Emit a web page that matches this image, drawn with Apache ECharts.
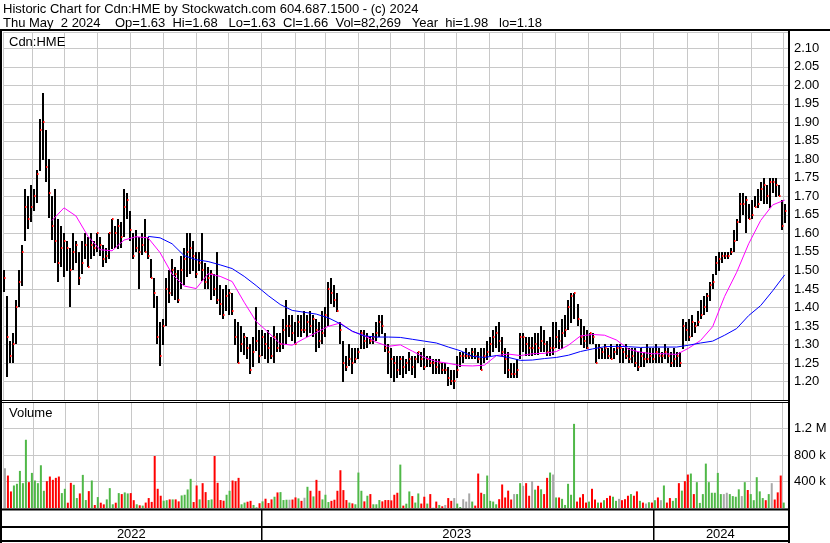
<!DOCTYPE html>
<html><head><meta charset="utf-8">
<script src="https://cdn.jsdelivr.net/npm/echarts@6/dist/echarts.min.js"></script>
<style>html,body{margin:0;padding:0;background:#fff}#c{width:830px;height:543px}</style>
</head><body><div id="c"></div>
<script>
// ---- data ----
const titleLine1 = 'Historic Chart for Cdn:HME by Stockwatch.com 604.687.1500 - (c) 2024';
const titleLine2 = 'Thu May  2 2024    Op=1.63  Hi=1.68   Lo=1.63  Cl=1.66  Vol=82,269   Year  hi=1.98   lo=1.18';
const symbolLabel = 'Cdn:HME';
const volumeLabel = 'Volume';
const yearLabels = ['2022', '2023', '2024'];

// bars sampled evenly from 2022-05-06 to 2024-05-02
const firstBarDate = [2022, 4, 6];
const lastBarDate = [2024, 4, 2];

const highs = [
1.50,1.43,1.31,1.33,1.42,1.50,1.57,1.72,1.70,1.73,
1.72,1.77,1.91,1.98,1.88,1.80,1.70,1.72,1.64,1.62,
1.60,1.58,1.56,1.60,1.58,1.55,1.58,1.60,1.59,1.60,
1.58,1.60,1.59,1.57,1.56,1.60,1.64,1.62,1.64,1.63,
1.72,1.71,1.66,1.60,1.61,1.59,1.60,1.64,1.59,1.53,
1.48,1.43,1.36,1.37,1.48,1.50,1.53,1.51,1.50,1.54,
1.56,1.60,1.60,1.58,1.55,1.55,1.60,1.52,1.51,1.50,
1.49,1.55,1.46,1.45,1.46,1.45,1.44,1.37,1.36,1.35,
1.33,1.32,1.30,1.32,1.40,1.34,1.34,1.33,1.34,1.32,
1.35,1.33,1.33,1.37,1.42,1.38,1.38,1.36,1.38,1.38,
1.39,1.38,1.39,1.38,1.37,1.36,1.39,1.40,1.47,1.48,
1.46,1.44,1.36,1.31,1.27,1.30,1.29,1.29,1.29,1.34,
1.34,1.33,1.32,1.33,1.36,1.38,1.38,1.33,1.30,1.29,
1.27,1.27,1.27,1.27,1.26,1.28,1.27,1.27,1.28,1.28,
1.29,1.27,1.27,1.26,1.26,1.26,1.25,1.25,1.24,1.23,
1.23,1.27,1.28,1.28,1.29,1.28,1.29,1.29,1.28,1.29,
1.29,1.31,1.32,1.34,1.35,1.36,1.32,1.29,1.28,1.25,
1.25,1.26,1.33,1.33,1.32,1.32,1.32,1.33,1.33,1.35,
1.34,1.31,1.32,1.36,1.36,1.34,1.37,1.38,1.42,1.44,
1.44,1.41,1.37,1.35,1.34,1.33,1.33,1.30,1.30,1.29,
1.30,1.29,1.30,1.29,1.30,1.30,1.29,1.30,1.29,1.29,
1.29,1.28,1.29,1.28,1.30,1.29,1.29,1.30,1.29,1.28,
1.30,1.29,1.28,1.29,1.28,1.28,1.37,1.36,1.37,1.38,
1.36,1.39,1.42,1.43,1.44,1.47,1.49,1.54,1.55,1.55,
1.55,1.55,1.56,1.61,1.64,1.71,1.71,1.70,1.68,1.69,
1.70,1.72,1.74,1.75,1.73,1.75,1.75,1.75,1.73,1.69,
1.68];

const lows = [
1.44,1.21,1.25,1.25,1.30,1.40,1.46,1.58,1.61,1.63,
1.66,1.68,1.77,1.80,1.74,1.64,1.58,1.52,1.47,1.51,
1.48,1.50,1.40,1.50,1.52,1.46,1.49,1.53,1.51,1.53,
1.54,1.55,1.54,1.51,1.52,1.53,1.56,1.56,1.56,1.56,
1.59,1.64,1.58,1.53,1.55,1.45,1.54,1.55,1.53,1.48,
1.40,1.30,1.24,1.30,1.35,1.41,1.43,1.42,1.41,1.45,
1.46,1.48,1.49,1.50,1.48,1.50,1.47,1.45,1.45,1.42,
1.43,1.41,1.38,1.37,1.39,1.38,1.38,1.30,1.25,1.28,
1.27,1.26,1.22,1.24,1.28,1.25,1.27,1.26,1.25,1.26,
1.25,1.28,1.28,1.29,1.30,1.32,1.31,1.30,1.32,1.32,
1.33,1.32,1.33,1.32,1.28,1.29,1.30,1.32,1.35,1.41,
1.40,1.39,1.30,1.20,1.23,1.24,1.22,1.25,1.26,1.29,
1.29,1.29,1.30,1.30,1.31,1.32,1.33,1.28,1.22,1.21,
1.20,1.21,1.22,1.21,1.22,1.23,1.22,1.21,1.25,1.24,
1.23,1.24,1.24,1.22,1.22,1.22,1.22,1.22,1.19,1.19,
1.18,1.21,1.24,1.25,1.26,1.26,1.26,1.26,1.25,1.23,
1.25,1.26,1.27,1.28,1.29,1.28,1.27,1.22,1.21,1.21,
1.21,1.21,1.26,1.28,1.27,1.27,1.27,1.27,1.27,1.28,
1.28,1.27,1.27,1.27,1.29,1.29,1.29,1.32,1.34,1.36,
1.37,1.35,1.30,1.29,1.29,1.30,1.30,1.25,1.26,1.26,
1.26,1.26,1.26,1.26,1.27,1.25,1.25,1.26,1.25,1.25,
1.24,1.23,1.24,1.24,1.25,1.25,1.25,1.25,1.25,1.25,
1.26,1.25,1.24,1.24,1.24,1.24,1.29,1.31,1.31,1.32,
1.33,1.35,1.37,1.38,1.39,1.42,1.45,1.49,1.50,1.52,
1.53,1.53,1.54,1.55,1.58,1.63,1.65,1.60,1.64,1.64,
1.67,1.67,1.69,1.68,1.68,1.67,1.71,1.70,1.70,1.61,
1.63];

const closes = [
1.48,1.32,1.27,1.30,1.40,1.47,1.55,1.67,1.64,1.67,
1.70,1.76,1.88,1.90,1.78,1.71,1.62,1.58,1.52,1.56,
1.58,1.56,1.50,1.55,1.57,1.48,1.52,1.57,1.51,1.57,
1.56,1.60,1.57,1.53,1.54,1.60,1.64,1.60,1.62,1.59,
1.67,1.69,1.61,1.54,1.56,1.55,1.57,1.55,1.54,1.48,
1.44,1.32,1.27,1.35,1.45,1.44,1.50,1.49,1.42,1.50,
1.53,1.55,1.56,1.54,1.49,1.52,1.50,1.47,1.48,1.49,
1.45,1.42,1.41,1.38,1.43,1.44,1.39,1.32,1.25,1.30,
1.32,1.29,1.23,1.28,1.31,1.27,1.32,1.30,1.29,1.27,
1.32,1.29,1.30,1.34,1.35,1.35,1.33,1.30,1.36,1.34,
1.34,1.36,1.35,1.37,1.34,1.31,1.33,1.38,1.45,1.44,
1.42,1.39,1.34,1.25,1.24,1.26,1.25,1.26,1.28,1.33,
1.31,1.32,1.31,1.32,1.33,1.36,1.35,1.29,1.28,1.26,
1.25,1.23,1.26,1.24,1.25,1.26,1.24,1.26,1.28,1.26,
1.24,1.26,1.25,1.25,1.24,1.25,1.23,1.23,1.21,1.20,
1.20,1.23,1.27,1.27,1.27,1.27,1.28,1.27,1.26,1.23,
1.27,1.28,1.30,1.32,1.33,1.31,1.28,1.26,1.23,1.22,
1.22,1.23,1.32,1.32,1.30,1.29,1.29,1.30,1.29,1.31,
1.30,1.28,1.29,1.29,1.32,1.31,1.33,1.34,1.40,1.43,
1.44,1.37,1.32,1.31,1.29,1.33,1.32,1.25,1.29,1.28,
1.29,1.27,1.26,1.28,1.29,1.29,1.28,1.27,1.26,1.27,
1.25,1.24,1.27,1.26,1.26,1.27,1.26,1.28,1.27,1.27,
1.28,1.27,1.25,1.26,1.27,1.25,1.35,1.34,1.32,1.36,
1.35,1.36,1.38,1.40,1.43,1.46,1.47,1.52,1.53,1.54,
1.54,1.54,1.55,1.58,1.63,1.68,1.68,1.69,1.64,1.65,
1.67,1.68,1.72,1.73,1.70,1.74,1.74,1.73,1.70,1.62,
1.66];

// volume in thousands of shares
const volumesK = [
600,490,250,340,365,560,375,1030,390,530,
415,375,645,260,405,475,425,455,475,225,
290,80,380,350,150,220,500,120,255,415,
45,165,80,55,130,300,56,80,225,210,
235,220,225,118,56,41,36,82,150,92,
785,290,185,110,118,130,130,130,100,190,
200,280,440,90,340,130,375,240,120,130,
785,380,120,110,200,260,415,405,455,56,
82,95,108,46,10,72,100,140,75,130,
170,235,240,120,125,125,128,160,145,108,
155,320,260,175,425,260,130,200,90,108,
125,260,570,270,120,82,70,56,535,260,
100,185,210,56,56,120,100,120,120,115,
200,230,655,36,65,250,180,82,220,67,
170,67,210,5,97,46,26,46,150,108,
150,67,15,133,97,220,97,36,520,230,
210,490,108,97,56,133,355,159,262,128,
210,210,375,335,375,185,405,277,335,282,
210,455,535,505,159,159,138,46,365,200,
1270,97,159,210,82,97,290,128,82,82,
118,150,185,170,108,138,118,133,185,210,
185,251,108,82,67,87,82,118,159,118,
340,82,150,108,150,375,262,405,505,520,
210,390,77,210,670,390,230,230,530,210,
210,230,210,180,170,282,180,390,272,210,
118,465,251,150,118,210,375,128,236,490,
82];

// moving averages read every 4th bar
const maStep = 4;
const maFastFrom = 16;   // first bar index of the magenta average
const maFast = [
1.635,1.669,1.647,1.592,1.556,1.553,1.582,1.591,1.588,1.548,
1.490,1.458,1.451,1.491,1.484,1.470,1.414,1.362,1.333,1.302,
1.298,1.316,1.332,1.349,1.358,1.335,1.324,1.306,1.295,1.299,
1.282,1.265,1.254,1.249,1.243,1.242,1.244,1.270,1.274,1.270,
1.275,1.276,1.281,1.298,1.323,1.327,1.325,1.312,1.287,1.279,
1.275,1.275,1.273,1.290,1.311,1.348,1.430,1.495,1.572,1.635,
1.677,1.690];
const maSlowFrom = 48;   // first bar index of the blue average
const maSlow = [
1.592,1.588,1.572,1.540,1.529,1.524,1.515,1.505,1.484,1.459,
1.432,1.408,1.392,1.387,1.382,1.372,1.356,1.336,1.323,1.320,
1.320,1.319,1.314,1.309,1.304,1.293,1.283,1.268,1.265,1.270,
1.265,1.257,1.258,1.262,1.265,1.271,1.281,1.288,1.294,1.295,
1.294,1.292,1.293,1.293,1.293,1.298,1.304,1.309,1.325,1.343,
1.378,1.405,1.445,1.488];

// ---- chart ----
const FONT = '"Liberation Sans", Arial, sans-serif';
const t0 = new Date(firstBarDate[0], firstBarDate[1], firstBarDate[2]).getTime();
const t1 = new Date(lastBarDate[0], lastBarDate[1], lastBarDate[2]).getTime();
const barTime = i => t0 + i * (t1 - t0) / (highs.length - 1);
const axisMin = new Date(2022, 4, 5, 3).getTime();
const axisMax = new Date(2024, 4, 6).getTime();
const DAY = 864e5;
const GRID = '#c8c8c8';

const priceData = highs.map((h, i) => [barTime(i), h, lows[i], closes[i]]);
const fastData = maFast.map((v, k) => [barTime(maFastFrom + k * maStep), v]);
const slowData = maSlow.map((v, k) => [barTime(maSlowFrom + k * maStep), v]);
const volData = volumesK.map((v, i) => {
  const d = i === 0 ? 0 : Math.round((closes[i] - closes[i - 1]) * 100);
  const col = d > 0 ? '#50b848' : d < 0 ? '#ff0000' : '#a8a8a8';
  return { value: [barTime(i), v * 1000], itemStyle: { color: col } };
});
const yearData = yearLabels.map((y, i) => {
  const s = Math.max(axisMin, new Date(+y, 0, 1).getTime());
  const e = i < yearLabels.length - 1 ? new Date(+yearLabels[i + 1], 0, 1).getTime() : axisMax;
  return [s, e];
});

function timeAxis(gi, split) {
  return {
    type: 'time', gridIndex: gi, min: axisMin, max: axisMax,
    minInterval: 28 * DAY, maxInterval: 31 * DAY, splitNumber: 24,
    axisLine: { show: false }, axisTick: { show: false }, axisLabel: { show: false },
    splitLine: { show: split, lineStyle: { color: GRID, width: 1 } }
  };
}
const txt = (x, y, text, extra) => Object.assign({
  type: 'text', z: 10,
  style: { x, y, text, fill: '#000', fontSize: 13, fontFamily: FONT, verticalAlign: 'middle' }
}, extra || {});

const chart = echarts.init(document.getElementById('c'), null, { renderer: 'canvas' });
chart.setOption({
  animation: false,
  backgroundColor: '#fff',
  grid: [
    { left: 3, right: 41, top: 32, height: 368 },
    { left: 3, right: 41, top: 402, height: 106 },
    { left: 3, right: 41, top: 509, height: 32 }
  ],
  xAxis: [timeAxis(0, true), timeAxis(1, true), timeAxis(2, false)],
  yAxis: [
    {
      type: 'value', gridIndex: 0, position: 'right', min: 1.15, max: 2.144, interval: 0.05,
      axisLine: { show: false }, axisTick: { show: false },
      splitLine: { show: true, lineStyle: { color: GRID, width: 1 } },
      axisLabel: {
        margin: 5, color: '#000', fontSize: 13, fontFamily: FONT,
        formatter: v => (v < 1.19 || v > 2.11) ? '' : v.toFixed(2)
      }
    },
    {
      type: 'value', gridIndex: 1, position: 'right', min: 0, max: 1600000, interval: 400000,
      axisLine: { show: false }, axisTick: { show: false },
      splitLine: { show: true, lineStyle: { color: GRID, width: 1 } },
      axisLabel: {
        margin: 5, color: '#000', fontSize: 13, fontFamily: FONT,
        formatter: v => (v <= 0 || v >= 1500000) ? '' : (v >= 1e6 ? (v / 1e6) + ' M' : (v / 1e3) + ' k')
      }
    },
    { type: 'value', gridIndex: 2, min: 0, max: 1, show: false }
  ],
  series: [
    {
      type: 'custom', xAxisIndex: 0, yAxisIndex: 0, data: priceData, encode: { x: 0, y: [1, 2, 3] },
      renderItem: (params, api) => {
        const x = api.value(0);
        const top = api.coord([x, api.value(1)]);
        const bot = api.coord([x, api.value(2)]);
        const cp = api.coord([x, api.value(3)]);
        const cx = Math.round(top[0]);
        return {
          type: 'group', children: [
            { type: 'rect', shape: { x: cx - 1, y: Math.round(top[1]), width: 2, height: Math.max(2, Math.round(bot[1] - top[1])) }, style: { fill: '#000' } },
            { type: 'rect', shape: { x: cx, y: Math.round(cp[1]) - 1, width: 1.5, height: 2 }, style: { fill: '#ff0000' } }
          ]
        };
      }, z: 2
    },
    { type: 'line', xAxisIndex: 0, yAxisIndex: 0, data: fastData, showSymbol: false, symbol: 'none',
      lineStyle: { color: '#ff00ff', width: 1 }, z: 3 },
    { type: 'line', xAxisIndex: 0, yAxisIndex: 0, data: slowData, showSymbol: false, symbol: 'none',
      lineStyle: { color: '#0000ff', width: 1 }, z: 3 },
    { type: 'bar', xAxisIndex: 1, yAxisIndex: 1, data: volData, barWidth: 2, z: 2 },
    {
      type: 'custom', xAxisIndex: 2, yAxisIndex: 2, data: yearData, encode: { x: [0, 1] }, clip: false,
      renderItem: (params, api) => {
        const cs = params.coordSys;
        const l = api.coord([api.value(0), 0])[0];
        const r = api.coord([api.value(1), 0])[0];
        const kids = [{
          type: 'text', style: {
            x: (l + r) / 2 - 1, y: cs.y + cs.height - 7, text: yearLabels[params.dataIndex],
            align: 'center', verticalAlign: 'middle', fill: '#000', fontSize: 13, fontFamily: FONT
          }
        }];
        if (params.dataIndex > 0) {
          kids.push({ type: 'rect', shape: { x: Math.round(l) - 1, y: cs.y, width: 1.5, height: cs.height }, style: { fill: '#000' } });
        }
        return { type: 'group', children: kids };
      }
    }
  ],
  graphic: [
    txt(3, 9, titleLine1),
    txt(3, 23, titleLine2),
    txt(9, 42, symbolLabel),
    txt(9, 413, volumeLabel),
    { type: 'rect', shape: { x: 0, y: 29, width: 830, height: 2 }, style: { fill: '#000' }, z: 20 },
    { type: 'rect', shape: { x: 0, y: 29, width: 2, height: 514 }, style: { fill: '#000' }, z: 20 },
    { type: 'rect', shape: { x: 788, y: 29, width: 2, height: 514 }, style: { fill: '#000' }, z: 20 },
    { type: 'rect', shape: { x: 0, y: 400, width: 790, height: 1 }, style: { fill: '#000' }, z: 20 },
    { type: 'rect', shape: { x: 0, y: 402, width: 790, height: 1 }, style: { fill: '#000' }, z: 20 },
    { type: 'rect', shape: { x: 0, y: 508.5, width: 790, height: 2 }, style: { fill: '#000' }, z: 20 },
    { type: 'rect', shape: { x: 0, y: 526, width: 790, height: 2 }, style: { fill: '#000' }, z: 20 },
    { type: 'rect', shape: { x: 0, y: 540, width: 790, height: 2 }, style: { fill: '#000' }, z: 20 }
  ]
});
</script>
</body></html>
